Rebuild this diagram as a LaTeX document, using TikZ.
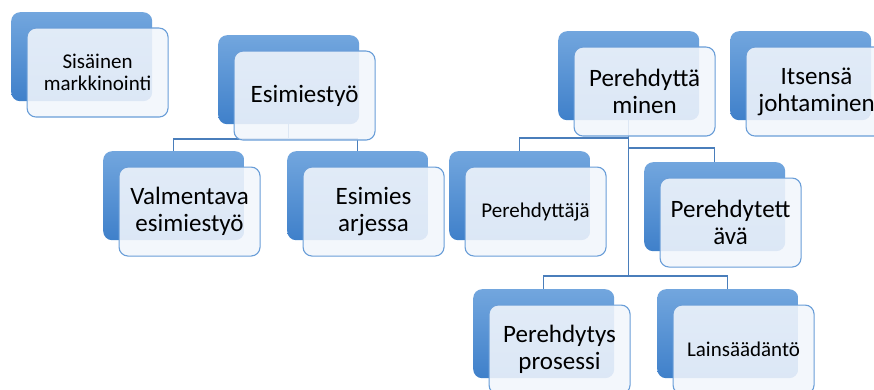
\documentclass[tikz,border=0pt]{standalone}
\usepackage{fontspec}
\setmainfont{Carlito}
\definecolor{backtop}{HTML}{72A6DE}
\definecolor{backbot}{HTML}{3F80CA}
\definecolor{frontline}{HTML}{6A9ED8}
\definecolor{frontfill}{HTML}{F2F6FC}
\definecolor{conn}{HTML}{4A7EBB}
\tikzset{
  backbox/.style={rectangle, rounded corners=9pt, minimum width=141pt, minimum height=89pt,
    inner sep=0pt, anchor=north west, top color=backtop, bottom color=backbot, draw=none},
  frontbox/.style={rectangle, rounded corners=9pt, minimum width=141pt, minimum height=89pt,
    inner sep=0pt, anchor=north west, draw=frontline, line width=1.1pt, fill=frontfill,
    fill opacity=0.88, text opacity=1, align=center, text=black},
  bigtext/.style={font=\fontsize{25}{27}\selectfont},
  smalltext/.style={font=\fontsize{21}{22}\selectfont},
  connector/.style={draw=conn, line width=1.1pt},
}
\begin{document}
\begin{tikzpicture}[x=1pt,y=-1pt]
\clip (0,0) rectangle (874,390);
\fill[white] (0,0) rectangle (874,390);
% back boxes
\node[backbox] (sis) at (11,12) {};
\node[backbox] (esi) at (218,35) {};
\node[backbox] (val) at (103,151) {};
\node[backbox] (arj) at (287,151) {};
\node[backbox] (per) at (558,31) {};
\node[backbox] (its) at (730,31) {};
\node[backbox] (pja) at (449,151) {};
\node[backbox] (pva) at (644,162) {};
\node[backbox] (pro) at (473,289) {};
\node[backbox] (lai) at (657,289) {};
% connectors
\draw[connector] (esi.south) |- ([yshift=12pt]val.north) -- (val.north);
\draw[connector] (esi.south) |- ([yshift=12pt]arj.north) -- (arj.north);
\draw[connector] (per.south) |- ([yshift=13pt]pja.north) -- (pja.north);
\draw[connector] (per.south) |- ([yshift=14pt]pva.north) -- (pva.north);
\draw[connector] (per.south) |- ([yshift=13pt]pro.north) -- (pro.north);
\draw[connector] (per.south) |- ([yshift=13pt]lai.north) -- (lai.north);
% front boxes
\node[frontbox, smalltext] (sisf) at (26.5,27.5) {Sisäinen\\markkinointi};
\node[frontbox, bigtext] (esif) at (233.5,50.5) {Esimiestyö};
\node[frontbox, bigtext] (valf) at (118.5,166.5) {Valmentava\\esimiestyö};
\node[frontbox, bigtext] (arjf) at (302.5,166.5) {Esimies\\arjessa};
\node[frontbox, bigtext] (perf) at (573.5,46.5) {Perehdyttä\\minen};
\node[frontbox, bigtext] (itsf) at (745.5,46.5) {Itsensä\\johtaminen};
\node[frontbox, smalltext] (pjaf) at (464.5,166.5) {Perehdyttäjä};
\node[frontbox, bigtext] (pvaf) at (659.5,177.5) {Perehdytett\\ävä};
\node[frontbox, bigtext] (prof) at (488.5,304.5) {Perehdytys\\prosessi};
\node[frontbox, smalltext] (laif) at (672.5,304.5) {Lainsäädäntö};
\end{tikzpicture}
\end{document}
